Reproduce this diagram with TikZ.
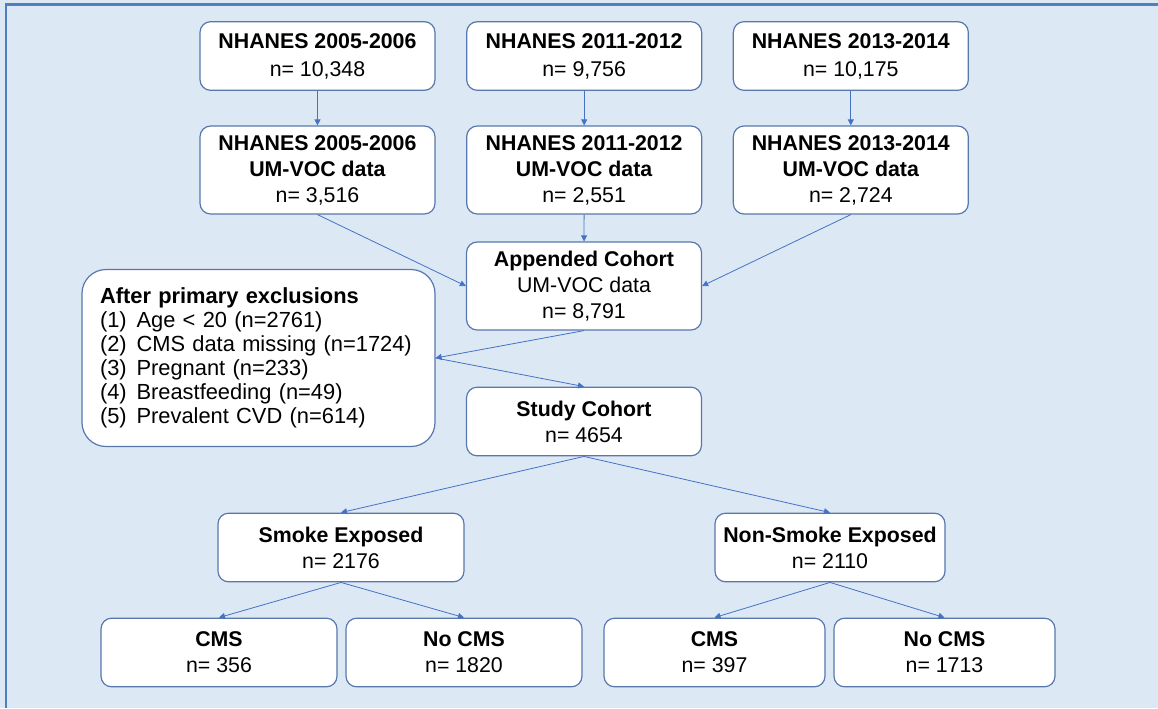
\documentclass[tikz,border=0pt]{standalone}
\usepackage{fontspec}
\setmainfont{Liberation Sans}
\usetikzlibrary{arrows.meta}

\definecolor{bgblue}{HTML}{DDE8F5}
\definecolor{frameblue}{HTML}{4F7FBF}
\definecolor{boxline}{HTML}{5878AC}
\definecolor{arrowblue}{HTML}{4472C4}

\begin{document}
\begin{tikzpicture}[
    x=0.75pt, y=-0.75pt,
    % Define block style
    block/.style={rectangle, draw=boxline, fill=white, line width=0.9pt, rounded corners=8pt, align=center, inner sep=0pt, minimum width=176.25pt, minimum height=51.5pt, font=\fontsize{16}{19.5}\selectfont},
    tall/.style={minimum height=66pt},
    % Define arrow style
    arrow/.style={-{Triangle[length=4.5pt,width=4.5pt]}, draw=arrowblue, line width=0.6pt},
    % Spacing
    node distance=200pt
]

    % Background and frame
    \fill[bgblue] (0,0) rectangle (1158,708);
    \useasboundingbox (0,0) rectangle (1158,708);
    \draw[frameblue, line width=2pt] (6,708) -- (6,4.5) -- (1158,4.5);

    % Nodes (survey cycles)
    \node[block] (nh05) at (317.5,56) {\textbf{NHANES 2005-2006}\\[1.5pt]n= 10,348};
    \node[block, right of=nh05] (nh11) {\textbf{NHANES 2011-2012}\\[1.5pt]n= 9,756};
    \node[block, right of=nh11] (nh13) {\textbf{NHANES 2013-2014}\\[1.5pt]n= 10,175};

    \node[block, tall] (voc05) at (317.5,170) {\textbf{NHANES 2005-2006}\\\textbf{UM-VOC data}\\n= 3,516};
    \node[block, tall, right of=voc05] (voc11) {\textbf{NHANES 2011-2012}\\\textbf{UM-VOC data}\\n= 2,551};
    \node[block, tall, right of=voc11] (voc13) {\textbf{NHANES 2013-2014}\\\textbf{UM-VOC data}\\n= 2,724};

    % Nodes (cohorts)
    \node[block, tall] (append) at (584,286) {\textbf{Appended Cohort}\\UM-VOC data\\n= 8,791};
    \node[block, align=left, text width=237.75pt, inner xsep=13.5pt, minimum height=132.75pt, rounded corners=18pt, font=\fontsize{16.4}{18}\selectfont] (excl) at (258.5,358)
        {\textbf{After primary exclusions}\\(1)\hspace{0.45em}Age < 20 (n=2761)\\(2)\hspace{0.45em}CMS data missing (n=1724)\\(3)\hspace{0.45em}Pregnant (n=233)\\(4)\hspace{0.45em}Breastfeeding (n=49)\\(5)\hspace{0.45em}Prevalent CVD (n=614)};
    \node[block] (study) at (584,421.5) {\textbf{Study Cohort}\\n= 4654};

    % Nodes (exposure groups)
    \node[block, minimum width=184.5pt] (smoke) at (341,547.5) {\textbf{Smoke Exposed}\\n= 2176};
    \node[block, minimum width=172.5pt] (nonsmoke) at (830,547.5) {\textbf{Non-Smoke Exposed}\\n= 2110};

    \node[block, minimum width=177pt] (cms1) at (219,652.5) {\textbf{CMS}\\n= 356};
    \node[block, minimum width=177pt, right of=cms1, node distance=183.75pt] (nocms1) {\textbf{No CMS}\\n= 1820};
    \node[block, minimum width=165.75pt] (cms2) at (714.5,652.5) {\textbf{CMS}\\n= 397};
    \node[block, minimum width=165.75pt, right of=cms2, node distance=172.5pt] (nocms2) {\textbf{No CMS}\\n= 1713};

    % Arrows
    \draw[arrow] (nh05) -- (voc05);
    \draw[arrow] (nh11) -- (voc11);
    \draw[arrow] (nh13) -- (voc13);
    \draw[arrow] (voc05.south) -- (append.west);
    \draw[arrow] (voc11) -- (append);
    \draw[arrow] (voc13.south) -- (append.east);
    \draw[arrow] (append.south) -- (excl.east);
    \draw[arrow] (excl.east) -- (study.north);
    \draw[arrow] (study.south) -- (smoke.north);
    \draw[arrow] (study.south) -- (nonsmoke.north);
    \draw[arrow] (smoke.south) -- (cms1.north);
    \draw[arrow] (smoke.south) -- (nocms1.north);
    \draw[arrow] (nonsmoke.south) -- (cms2.north);
    \draw[arrow] (nonsmoke.south) -- (nocms2.north);

\end{tikzpicture}
\end{document}
